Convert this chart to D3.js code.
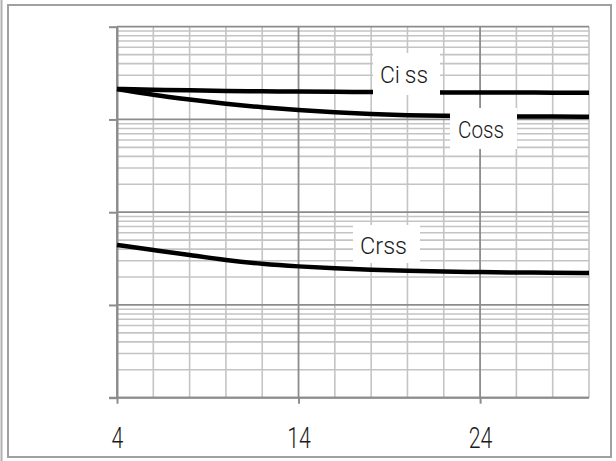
<!DOCTYPE html>
<html>
<head>
<meta charset="utf-8">
<script src="https://cdn.jsdelivr.net/npm/d3@7"></script>
<style>
  html, body { margin: 0; padding: 0; background: #fff; }
  svg { display: block; }
</style>
</head>
<body>
<svg id="chart" width="616" height="461"></svg>
<script>
// ---- data ----
const vds  = [4, 6, 8, 10, 12, 14, 16, 18, 20, 22, 24, 26, 28, 30];
const ciss = [2130, 2090, 2060, 2030, 2010, 1995, 1985, 1975, 1965, 1958, 1952, 1948, 1945, 1942];
const coss = [2130, 1835, 1640, 1470, 1350, 1265, 1190, 1140, 1108, 1092, 1083, 1077, 1074, 1072];
const crss = [44.3, 39.1, 34.6, 30.3, 27.6, 26.0, 24.8, 23.9, 23.3, 22.9, 22.6, 22.4, 22.2, 22.1];
const seriesNames = ["Ciss", "Coss", "Crss"];
const xTickLabels = [4, 14, 24];
const xGridValues = [4, 6, 8, 10, 12, 14, 16, 18, 20, 22, 24, 26, 28, 30];
const yDecades = [1, 10, 100, 1000, 10000];

// ---- layout ----
const svg = d3.select("#chart");
const L = 117, R = 589, T = 26.7, B = 397.7;
const x = d3.scaleLinear().domain([4, 30]).range([L, R]);
const y = d3.scaleLog().domain([1, 10000]).range([B, T]);
const FONT = "Roboto, 'Liberation Sans', Arial, sans-serif";

// outer frame
svg.append("line").attr("x1", 1.5).attr("x2", 1.5).attr("y1", 0).attr("y2", 461)
  .attr("stroke", "#b0b0b0").attr("stroke-width", 2);
svg.append("rect").attr("x", 8).attr("y", 5).attr("width", 603).attr("height", 452)
  .attr("fill", "none").attr("stroke", "#a0a0a0").attr("stroke-width", 2);

// minor grid
const g = svg.append("g");
const minorY = y.ticks().filter(v => !yDecades.includes(v));
g.selectAll("line.hy").data(minorY).join("line")
  .attr("x1", L).attr("x2", R).attr("y1", d => y(d)).attr("y2", d => y(d))
  .attr("stroke", "#c4c4c4").attr("stroke-width", 1.6);
g.selectAll("line.vx").data(xGridValues.filter(v => !xTickLabels.includes(v))).join("line")
  .attr("x1", d => x(d)).attr("x2", d => x(d)).attr("y1", T).attr("y2", B)
  .attr("stroke", "#c4c4c4").attr("stroke-width", 1.6);
// major grid
g.selectAll("line.my").data(yDecades).join("line")
  .attr("x1", L).attr("x2", R).attr("y1", d => y(d)).attr("y2", d => y(d))
  .attr("stroke", "#8c8c8c").attr("stroke-width", 1.8);
g.selectAll("line.mx").data(xTickLabels).join("line")
  .attr("x1", d => x(d)).attr("x2", d => x(d)).attr("y1", T).attr("y2", B)
  .attr("stroke", "#8c8c8c").attr("stroke-width", 1.8);

// axes
const xAxis = d3.axisBottom(x).tickValues(xTickLabels).tickSize(6).tickSizeOuter(0);
const yAxis = d3.axisLeft(y).tickValues(yDecades).tickSize(8).tickSizeOuter(0).tickFormat("");
const gx = svg.append("g").attr("transform", `translate(0,${B})`).call(xAxis);
const gy = svg.append("g").attr("transform", `translate(${L},0)`).call(yAxis);
[gx, gy].forEach(a => {
  a.selectAll("path, line").attr("stroke", "#8c8c8c").attr("stroke-width", 2);
});
gx.select(".domain").remove();
svg.append("line").attr("x1", L - 8).attr("x2", R).attr("y1", B).attr("y2", B)
  .attr("stroke", "#8c8c8c").attr("stroke-width", 2);
gx.selectAll("text")
  .attr("font-family", FONT).attr("font-weight", 300)
  .attr("font-size", 29).attr("fill", "#1a1a1a")
  .attr("dy", 0).attr("y", 50)
  .attr("textLength", d => String(d).length * 11.8)
  .attr("lengthAdjust", "spacingAndGlyphs");

// curves
const line = d3.line().x((d, i) => x(vds[i])).y(d => y(d)).curve(d3.curveBasis);
[ciss, coss, crss].forEach(s => {
  svg.append("path").attr("d", line(s)).attr("fill", "none")
    .attr("stroke", "#000").attr("stroke-width", 4.5).attr("stroke-linejoin", "round");
});

// labels
const labelBoxes = [
  {bx: 373, by: 53, bw: 67, bh: 42, tx: 380, ty: 82.7, tw: 48},
  {bx: 450, by: 108, bw: 67, bh: 41, tx: 458, ty: 138.3, tw: 46},
  {bx: 353, by: 225, bw: 67, bh: 38, tx: 360, ty: 254, tw: 47}
];
seriesNames.forEach((name, i) => {
  const b = labelBoxes[i];
  svg.append("rect").attr("x", b.bx).attr("y", b.by).attr("width", b.bw).attr("height", b.bh)
    .attr("fill", "#fff");
  const t = svg.append("text").attr("x", b.tx).attr("y", b.ty)
    .attr("font-family", FONT).attr("font-weight", 300)
    .attr("font-size", 24).attr("fill", "#1a1a1a")
    .attr("textLength", b.tw).attr("lengthAdjust", "spacingAndGlyphs");
  if (name === "Ciss") {
    t.append("tspan").text(name.slice(0, 2));
    t.append("tspan").attr("dx", 5).text(name.slice(2));
  } else {
    t.text(name);
  }
});
</script>
</body>
</html>
